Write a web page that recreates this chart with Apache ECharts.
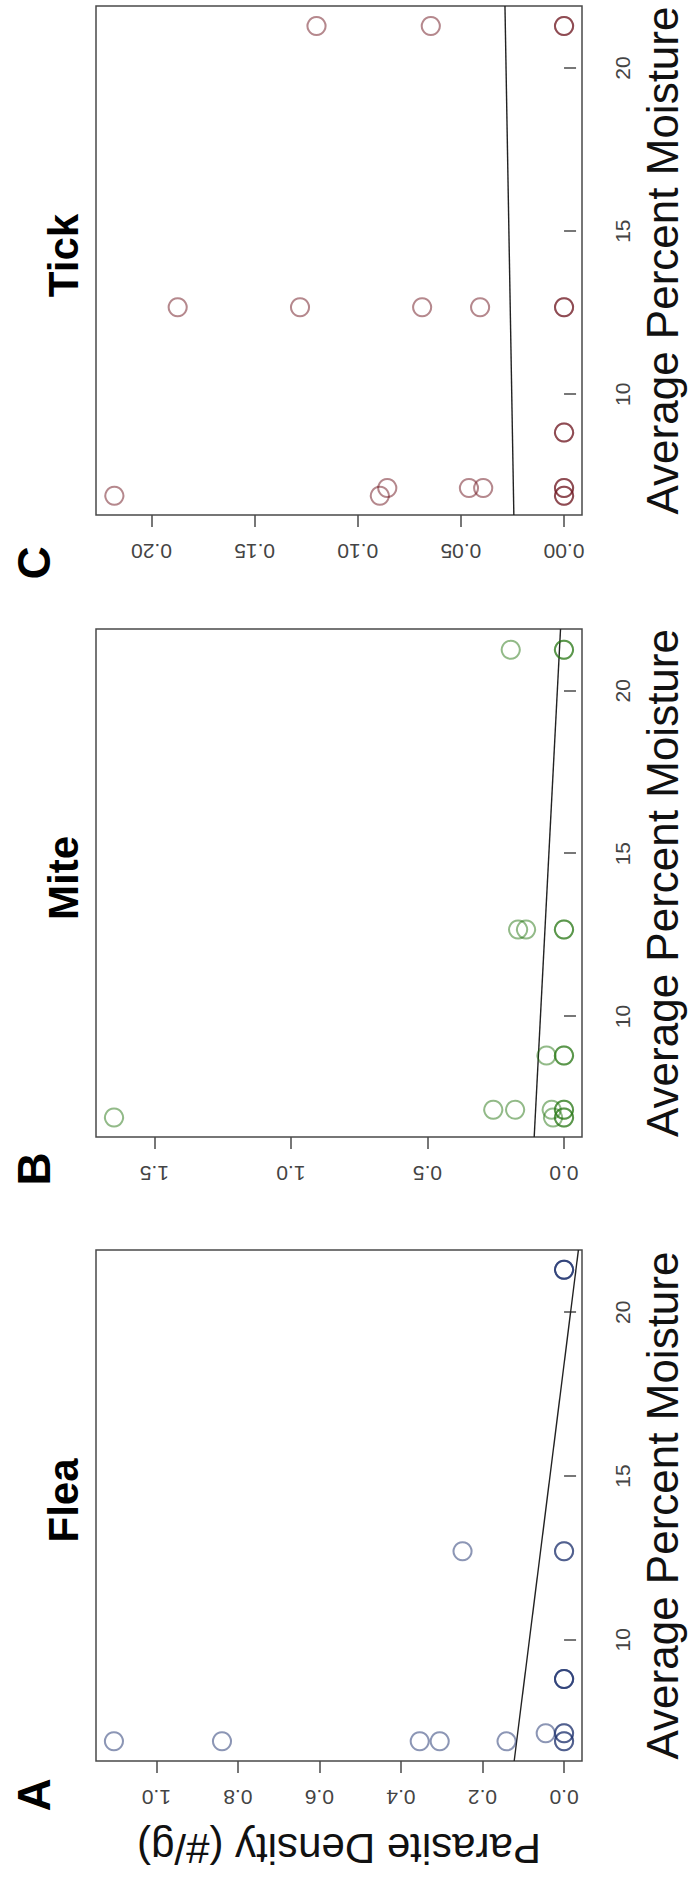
<!DOCTYPE html>
<html>
<head>
<meta charset="utf-8">
<script src="https://cdn.jsdelivr.net/npm/echarts@6/dist/echarts.min.js"></script>
<style>
  html, body { margin: 0; padding: 0; background: #fff; overflow: hidden; }
  body { width: 689px; height: 1884px; position: relative; }
  /* the figure is drawn landscape, then turned a quarter turn to the left */
  #chart {
    position: absolute; left: 0; top: 1884px;
    width: 1884px; height: 689px;
    transform-origin: 0 0;
    transform: rotate(-90deg);
  }
</style>
</head>
<body>
<div id="chart"></div>
<script>
  // moisture (x) and parasite density (y) per sample
  const fleaMoisture = [6.9, 6.9, 6.9, 6.9, 6.9, 6.9, 6.9, 7.15, 7.15, 7.15, 8.8, 8.8, 8.8, 12.7, 12.7, 12.7, 21.3, 21.3, 21.3];
  const fleaDensity  = [1.104, 0.839, 0.354, 0.305, 0.141, 0, 0, 0.045, 0, 0, 0, 0, 0, 0.249, 0, 0, 0, 0, 0];

  const miteMoisture = [6.9, 6.9, 6.9, 6.9, 7.14, 7.14, 7.14, 7.14, 7.14, 8.8, 8.8, 8.8, 12.67, 12.67, 12.67, 12.67, 21.26, 21.26, 21.26];
  const miteDensity  = [1.648, 0.04, 0, 0, 0.259, 0.179, 0.045, 0, 0, 0.064, 0, 0, 0.168, 0.139, 0, 0, 0.195, 0, 0];

  const tickMoisture = [6.89, 6.89, 6.89, 6.89, 7.13, 7.13, 7.13, 7.13, 7.13, 8.83, 8.83, 12.67, 12.67, 12.67, 12.67, 12.67, 12.67, 21.29, 21.29, 21.29, 21.29];
  const tickDensity  = [0.218, 0.0893, 0, 0, 0.0857, 0.0461, 0.0392, 0, 0, 0, 0, 0.1873, 0.128, 0.0688, 0.0407, 0, 0, 0.12, 0.0646, 0, 0];

  // linear fits: [intercept, slope]
  const fleaFit = [0.186, -0.0101];
  const miteFit = [0.148, -0.00618];
  const tickFit = [0.0226, 0.000276];

  // axis ranges and tick labels
  const moistureRange = [6.3, 21.9];
  const moistureTicks = [10, 15, 20];
  const fleaRange = [-0.044, 1.148];
  const fleaTicks = [0, 0.2, 0.4, 0.6, 0.8, 1.0];
  const miteRange = [-0.066, 1.714];
  const miteTicks = [0, 0.5, 1.0, 1.5];
  const tickRange = [-0.0087, 0.2269];
  const tickTicks = [0, 0.05, 0.10, 0.15, 0.20];

  const panelNames = ["Flea", "Mite", "Tick"];
  const panelLetters = ["A", "B", "C"];

  const FONT = "'Liberation Sans', Arial, Helvetica, sans-serif";

  const panels = [
    { mx: fleaMoisture, dy: fleaDensity, fit: fleaFit, range: fleaRange, ticks: fleaTicks, dec: 1,
      color: "rgba(22,42,105,0.62)", left: 123, width: 511, letterX: 84, yName: "Parasite Density (#/g)" },
    { mx: miteMoisture, dy: miteDensity, fit: miteFit, range: miteRange, ticks: miteTicks, dec: 1,
      color: "rgba(35,115,15,0.62)", left: 747, width: 508, letterX: 710, yName: "" },
    { mx: tickMoisture, dy: tickDensity, fit: tickFit, range: tickRange, ticks: tickTicks, dec: 2,
      color: "rgba(105,15,25,0.62)", left: 1369, width: 509, letterX: 1316, yName: "" },
  ];

  const grids = [], xAxes = [], yAxes = [], series = [], titles = [];

  panels.forEach((p, i) => {
    grids.push({
      left: p.left, top: 96, width: p.width, height: 488,
      show: true, borderColor: "#4a4a4a", borderWidth: 1.5, backgroundColor: "transparent",
    });

    xAxes.push({
      gridIndex: i, type: "value",
      min: moistureRange[0], max: moistureRange[1],
      axisLine: { show: false }, splitLine: { show: false },
      axisTick: { show: true, customValues: moistureTicks, length: 12, lineStyle: { color: "#4a4a4a", width: 1.5 } },
      axisLabel: { customValues: moistureTicks, fontSize: 21, color: "#444", fontFamily: FONT, margin: 30 },
      name: "Average Percent Moisture", nameLocation: "middle", nameGap: 58,
      nameTextStyle: { fontSize: 44, color: "#111", fontFamily: FONT },
    });

    yAxes.push({
      gridIndex: i, type: "value",
      min: p.range[0], max: p.range[1],
      axisLine: { show: false }, splitLine: { show: false },
      axisTick: { show: true, customValues: p.ticks, length: 12, lineStyle: { color: "#4a4a4a", width: 1.5 } },
      axisLabel: {
        customValues: p.ticks, rotate: 90, fontSize: 21, color: "#444", fontFamily: FONT, margin: 26,
        formatter: (v) => Number(v).toFixed(p.dec),
      },
      name: p.yName, nameLocation: "middle", nameGap: 66,
      nameTextStyle: { fontSize: 42, color: "#111", fontFamily: FONT },
    });

    series.push({
      type: "scatter", xAxisIndex: i, yAxisIndex: i,
      data: p.mx.map((m, k) => [m, p.dy[k]]),
      symbol: "circle", symbolSize: 18,
      itemStyle: { color: "rgba(0,0,0,0)", borderColor: p.color, borderWidth: 2 },
      z: 3,
    });

    // regression line across the whole plotting range
    series.push({
      type: "line", xAxisIndex: i, yAxisIndex: i,
      data: moistureRange.map((m) => [m, p.fit[0] + p.fit[1] * m]),
      symbol: "none", lineStyle: { color: "#222", width: 1.4 }, z: 2,
    });

    titles.push({
      text: panelNames[i], left: p.left + p.width / 2, top: 37, textAlign: "center",
      textStyle: { fontSize: 42, fontWeight: "bold", color: "#000", fontFamily: FONT },
    });
    titles.push({
      text: panelLetters[i], left: p.letterX, top: 6, textAlign: "center",
      textStyle: { fontSize: 46, fontWeight: "bold", color: "#000", fontFamily: FONT },
    });
  });

  const chart = echarts.init(document.getElementById("chart"), null, { renderer: "svg", width: 1884, height: 689 });
  chart.setOption({
    animation: false,
    backgroundColor: "#fff",
    title: titles,
    grid: grids,
    xAxis: xAxes,
    yAxis: yAxes,
    series: series,
  });
</script>
</body>
</html>
